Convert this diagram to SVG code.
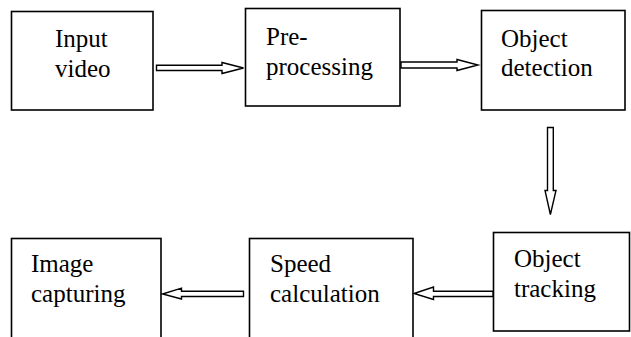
<svg xmlns="http://www.w3.org/2000/svg" width="631" height="337" viewBox="0 0 631 337">
  <style>
    .box { fill: #fff; stroke: #000; stroke-width: 1.6; }
    .arr { fill: #fff; stroke: #000; stroke-width: 1.4; stroke-linejoin: miter; }
  </style>
  <rect width="631" height="337" fill="#fff"/>

  <g font-family="Liberation Serif, DejaVu Serif, serif" font-size="25" fill="#000">
  <g id="input-video">
    <rect class="box" x="11.5" y="11.5" width="141.5" height="98.5"/>
    <text x="55" y="46.5">Input</text>
    <text x="55" y="76.5">video</text>
  </g>

  <g id="pre-processing">
    <rect class="box" x="245.5" y="8.5" width="154.5" height="97.5"/>
    <text x="266" y="45">Pre-</text>
    <text x="266" y="75">processing</text>
  </g>

  <g id="object-detection">
    <rect class="box" x="481.5" y="10.5" width="143.5" height="99.5"/>
    <text x="501" y="46.5">Object</text>
    <text x="501" y="75.5">detection</text>
  </g>

  <g id="object-tracking">
    <rect class="box" x="493.5" y="232.5" width="136" height="98.5"/>
    <text x="514" y="266.5">Object</text>
    <text x="514" y="296.5">tracking</text>
  </g>

  <g id="speed-calculation">
    <rect class="box" x="249.5" y="238.5" width="163.5" height="110"/>
    <text x="270" y="271.5">Speed</text>
    <text x="270" y="301.5">calculation</text>
  </g>

  <g id="image-capturing">
    <rect class="box" x="11.5" y="238.5" width="149.5" height="110"/>
    <text x="31" y="271.5">Image</text>
    <text x="31" y="301.5">capturing</text>
  </g>
  </g>

  <g id="connectors">
    <!-- Input video -> Pre-processing -->
    <path class="arr" d="M156.5,65.3 H222 V62.5 L243.5,68 L222,73.5 V70.5 H156.5 Z"/>
    <!-- Pre-processing -> Object detection -->
    <path class="arr" d="M401,62 H457 V59.5 L478,65 L457,70.5 V68 H401 Z"/>
    <!-- Object detection -> Object tracking -->
    <path class="arr" d="M547.5,127.5 H553.3 V190.5 H556 L550.4,214.5 L545,190.5 H547.5 Z"/>
    <!-- Object tracking -> Speed calculation -->
    <path class="arr" d="M493,291.2 H433.5 V287 L414,293.5 L433.5,299.5 V296.5 H493 Z"/>
    <!-- Speed calculation -> Image capturing -->
    <path class="arr" d="M243.5,291.2 H181.5 V288.2 L162.5,294 L181.5,299 V296.5 H243.5 Z"/>
  </g>
</svg>
